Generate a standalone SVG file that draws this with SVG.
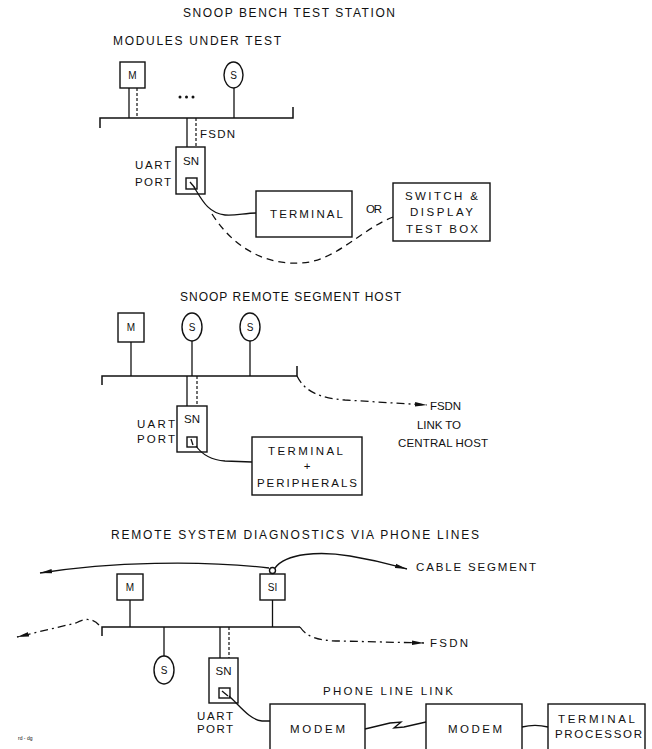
<svg xmlns="http://www.w3.org/2000/svg" width="652" height="749" viewBox="0 0 652 749">
<style>
text{font-family:"Liberation Sans","DejaVu Sans",Arial,sans-serif;fill:#111;font-size:11.5px}
.ttl{font-size:12px}
.lbl{text-anchor:middle}
.sm{font-size:10px}
.box{fill:none;stroke:#111;stroke-width:1.4}
.ln{fill:none;stroke:#111;stroke-width:1.3}
.bus{fill:none;stroke:#111;stroke-width:1.5}
.dsh{fill:none;stroke:#111;stroke-width:1.2;stroke-dasharray:3 2}
.dash{fill:none;stroke:#111;stroke-width:1.3;stroke-dasharray:7 5}
.dd{fill:none;stroke:#111;stroke-width:1.3;stroke-dasharray:8 4 2 4}
</style>
<defs>
<marker id="arr" viewBox="0 0 12 6" refX="12" refY="3" markerWidth="12" markerHeight="6" markerUnits="userSpaceOnUse" orient="auto">
<path d="M0,0.8 L12,3 L0,5.2 Z" fill="#111"/>
</marker>
</defs>
<rect width="652" height="749" fill="#fff"/>

<!-- ===== Top: SNOOP BENCH TEST STATION ===== -->
<g id="t-title"><text class="ttl" x="183" y="17" textLength="212" lengthAdjust="spacing">SNOOP BENCH TEST STATION</text></g>
<g id="t-modules"><text class="ttl" x="113" y="45" textLength="168" lengthAdjust="spacing">MODULES UNDER TEST</text></g>
<g id="t-m"><rect class="box" x="120" y="62" width="25" height="26"/><text class="lbl sm" x="132.5" y="79">M</text></g>
<g id="t-dots"><circle cx="180" cy="97" r="1.5" fill="#111"/><circle cx="186.5" cy="97" r="1.5" fill="#111"/><circle cx="193" cy="97" r="1.5" fill="#111"/></g>
<g id="t-s"><ellipse class="box" cx="233.5" cy="75" rx="9.5" ry="13"/><text class="lbl sm" x="233.5" y="79">S</text></g>
<g id="t-bus"><path class="bus" d="M100,128 L100,118 L293,118 L293,107"/></g>
<g id="t-sn"><rect class="box" x="176" y="147" width="29" height="47"/><text class="lbl" x="191" y="165">SN</text><rect class="box" x="186" y="178" width="11" height="11"/><path class="ln" d="M190,182 L195,188" stroke-width="1"/></g>
<g id="t-uart"><text x="135" y="169" textLength="36" lengthAdjust="spacing">UART</text><text x="135" y="186" textLength="36" lengthAdjust="spacing">PORT</text></g>
<g id="t-fsdn"><text x="200" y="138" textLength="35" lengthAdjust="spacing">FSDN</text></g>
<g id="t-terminal"><rect class="box" x="256" y="191" width="96" height="46"/><text x="270" y="218" textLength="73" lengthAdjust="spacing">TERMINAL</text></g>
<g id="t-or"><text x="366" y="213" textLength="16" lengthAdjust="spacing">OR</text></g>
<g id="t-switch"><rect class="box" x="393" y="183" width="97" height="58"/>
<text x="405" y="200" textLength="73" lengthAdjust="spacing">SWITCH &amp;</text>
<text x="410" y="216" textLength="63" lengthAdjust="spacing">DISPLAY</text>
<text x="406" y="233" textLength="72" lengthAdjust="spacing">TEST BOX</text></g>

<!-- ===== Middle: SNOOP REMOTE SEGMENT HOST ===== -->
<g id="m-title"><text class="ttl" x="180" y="301" textLength="221" lengthAdjust="spacing">SNOOP REMOTE SEGMENT HOST</text></g>
<g id="m-m"><rect class="box" x="118" y="313" width="26" height="29"/><text class="lbl sm" x="131" y="331">M</text></g>
<g id="m-s1"><ellipse class="box" cx="192" cy="327" rx="10" ry="14"/><text class="lbl sm" x="192" y="331">S</text></g>
<g id="m-s2"><ellipse class="box" cx="250" cy="327" rx="10" ry="14"/><text class="lbl sm" x="250" y="331">S</text></g>
<g id="m-bus"><path class="bus" d="M102,385 L102,376 L297,376 L297,366"/></g>
<g id="m-sn"><rect class="box" x="177" y="406" width="30" height="46"/><text class="lbl" x="192" y="423">SN</text><rect class="box" x="187" y="437" width="10" height="10"/><path class="ln" d="M191,439 L193,445" stroke-width="1"/></g>
<g id="m-uart"><text x="137" y="428" textLength="38" lengthAdjust="spacing">UART</text><text x="137" y="443" textLength="38" lengthAdjust="spacing">PORT</text></g>
<g id="m-termper"><rect class="box" x="252" y="437" width="110" height="58"/>
<text x="268" y="455" textLength="75" lengthAdjust="spacing">TERMINAL</text>
<text class="lbl" x="307" y="470">+</text>
<text x="257" y="487" textLength="100" lengthAdjust="spacing">PERIPHERALS</text></g>
<g id="m-fsdnlink"><text x="430" y="410" textLength="31" lengthAdjust="spacing">FSDN</text>
<text x="417" y="429" textLength="44" lengthAdjust="spacing">LINK TO</text>
<text x="398" y="447" textLength="90" lengthAdjust="spacing">CENTRAL HOST</text></g>

<!-- ===== Bottom: REMOTE SYSTEM DIAGNOSTICS ===== -->
<g id="b-title"><text class="ttl" x="111" y="539" textLength="368" lengthAdjust="spacing">REMOTE SYSTEM DIAGNOSTICS VIA PHONE LINES</text></g>
<g id="b-cablelabel"><text x="416" y="571" textLength="120" lengthAdjust="spacing">CABLE SEGMENT</text></g>
<g id="b-m"><rect class="box" x="117" y="574" width="26" height="26"/><text class="lbl sm" x="130" y="591">M</text></g>
<g id="b-si"><rect class="box" x="260" y="574" width="25" height="26"/><text class="lbl sm" x="272.5" y="591">SI</text><circle class="box" cx="272.5" cy="570.5" r="3" fill="#fff"/></g>
<g id="b-bus"><path class="bus" d="M102,636 L102,627 L300,627"/></g>
<g id="b-s"><ellipse class="box" cx="164" cy="670" rx="10" ry="14"/><text class="lbl sm" x="164" y="674">S</text></g>
<g id="b-sn"><rect class="box" x="209" y="658" width="29" height="45"/><text class="lbl" x="223.5" y="675">SN</text><rect class="box" x="219" y="688" width="11" height="10"/><path class="ln" d="M222,691 L228,696" stroke-width="1"/></g>
<g id="b-uart"><text x="197" y="720" textLength="36" lengthAdjust="spacing">UART</text><text x="197" y="733" textLength="36" lengthAdjust="spacing">PORT</text></g>
<g id="b-fsdn"><text x="430" y="647" textLength="38" lengthAdjust="spacing">FSDN</text></g>
<g id="b-phonelabel"><text x="323" y="695" textLength="130" lengthAdjust="spacing">PHONE LINE LINK</text></g>
<g id="b-modem1"><rect class="box" x="270" y="704" width="95" height="60"/><text x="290" y="733" textLength="55" lengthAdjust="spacing">MODEM</text></g>
<g id="b-modem2"><rect class="box" x="426" y="704" width="96" height="60"/><text x="448" y="733" textLength="54" lengthAdjust="spacing">MODEM</text></g>
<g id="b-termproc"><rect class="box" x="548" y="704" width="97" height="60"/>
<text x="558" y="723" textLength="77" lengthAdjust="spacing">TERMINAL</text>
<text x="555" y="738" textLength="87" lengthAdjust="spacing">PROCESSOR</text></g>
<g id="b-note"><text x="18" y="740" style="font-size:5px">rd - dg</text></g>

<!-- ===== Connectors ===== -->
<g id="connectors">
<!-- top -->
<path class="ln" d="M129,88 L129,118"/>
<path class="dsh" d="M137,88 L137,118"/>
<path class="ln" d="M234,88 L234,118"/>
<path class="ln" d="M187,118 L187,147"/>
<path class="dsh" d="M196,118 L196,147"/>
<path class="ln" d="M194,187 C202,200 208,213 225,215 C235,216 245,213 256,213"/>
<path class="dash" d="M212,214 C235,250 268,265 300,263 C335,262 360,230 393,217"/>
<!-- middle -->
<path class="ln" d="M131,342 L131,376"/>
<path class="ln" d="M192,341 L192,376"/>
<path class="ln" d="M250,341 L250,376"/>
<path class="ln" d="M187,376 L187,406"/>
<path class="dsh" d="M197,376 L197,406"/>
<path class="ln" d="M196,446 C203,456 212,460 225,461 L252,462"/>
<path class="dd" d="M297,376 C305,392 320,398 345,400 L427,405" marker-end="url(#arr)"/>
<!-- bottom -->
<path class="ln" d="M269,568 C200,560 110,562 40,573" marker-end="url(#arr)"/>
<path class="ln" d="M275,568 C286,553 320,551 350,556 S392,565 407,569" marker-end="url(#arr)"/>
<path class="ln" d="M130,600 L130,627"/>
<path class="ln" d="M272.5,600 L272.5,627"/>
<path class="ln" d="M164,627 L164,656"/>
<path class="ln" d="M220,627 L220,658"/>
<path class="dsh" d="M229,627 L229,658"/>
<path class="dd" d="M99,625 C93,618 84,618 76,623 L17,637" marker-end="url(#arr)"/>
<path class="dd" d="M300,627 C307,637 318,641 340,641 L424,643" marker-end="url(#arr)"/>
<path class="ln" d="M229,696 C240,706 250,720 262,721 L270,721"/>
<path class="ln" d="M365,729 L390,723 L401,722 L394,728 L404,727 L426,722"/>
<path class="ln" d="M522,727 C530,725 540,725 548,727"/>
</g>
</svg>
